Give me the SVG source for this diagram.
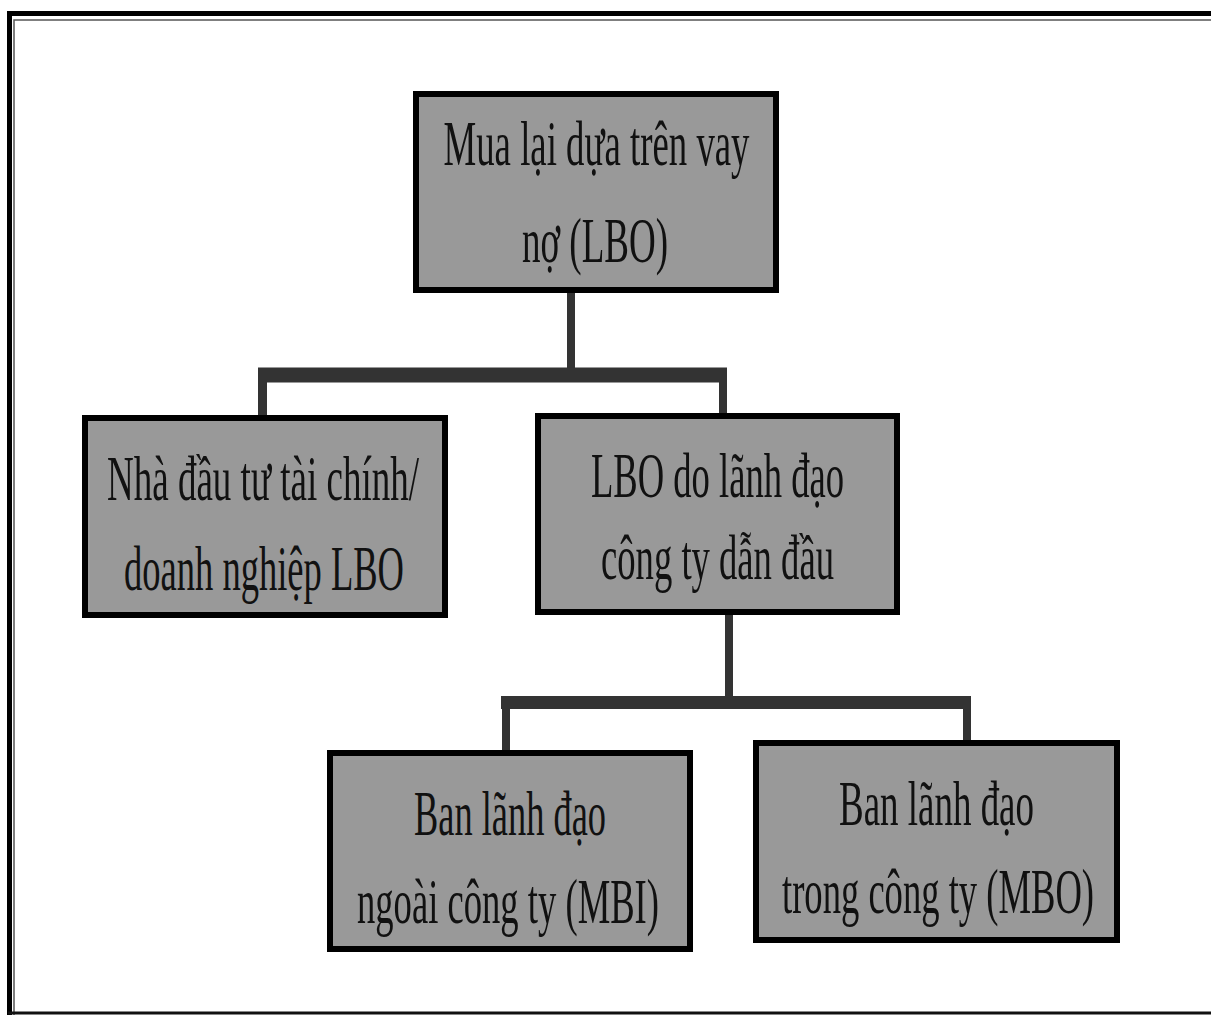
<svg xmlns="http://www.w3.org/2000/svg" width="1211" height="1015" viewBox="0 0 1211 1015">
<style>
.box{fill:#999999;stroke:#000;stroke-width:6}
.lbl{font-family:"Liberation Serif","Times New Roman",serif;font-size:63px;fill:#111;text-anchor:middle}
.conn{fill:none;stroke:#333333;stroke-linejoin:miter;stroke-linecap:butt}
</style>
<rect width="1211" height="1015" fill="#fff"/>
<g id="frame">
<path d="M9.5,1015 V13.5 H1215" fill="none" stroke="#000" stroke-width="5"/>
<path d="M14,1015 V20 H1215" fill="none" stroke="#555" stroke-width="1.5"/>
<line x1="8" y1="1013" x2="1211" y2="1013" stroke="#111" stroke-width="3"/>
</g>
<g id="connectors">
<line class="conn" x1="571" y1="293" x2="571" y2="375" stroke-width="8"/>
<line class="conn" x1="258" y1="375" x2="727" y2="375" stroke-width="15"/>
<line class="conn" x1="262.5" y1="375" x2="262.5" y2="415" stroke-width="9"/>
<line class="conn" x1="723" y1="375" x2="723" y2="413" stroke-width="8"/>
<line class="conn" x1="729" y1="615" x2="729" y2="702" stroke-width="8"/>
<line class="conn" x1="501" y1="702.5" x2="971" y2="702.5" stroke-width="13"/>
<line class="conn" x1="506" y1="702" x2="506" y2="750" stroke-width="8"/>
<line class="conn" x1="967" y1="702" x2="967" y2="740" stroke-width="8"/>
</g>
<g id="node-lbo">
<rect class="box" x="416" y="94" width="360" height="196"/>
<text class="lbl" x="596.5" y="165" textLength="306" lengthAdjust="spacingAndGlyphs">Mua lại dựa trên vay</text>
<text class="lbl" x="595" y="262" textLength="146" lengthAdjust="spacingAndGlyphs">nợ (LBO)</text>
</g>
<g id="node-investor">
<rect class="box" x="85" y="418" width="360" height="197"/>
<text class="lbl" x="263" y="500" textLength="312" lengthAdjust="spacingAndGlyphs">Nhà đầu tư tài chính/</text>
<text class="lbl" x="264" y="590" textLength="280" lengthAdjust="spacingAndGlyphs">doanh nghiệp LBO</text>
</g>
<g id="node-management">
<rect class="box" x="538" y="416" width="359" height="196"/>
<text class="lbl" x="717.5" y="497" textLength="253" lengthAdjust="spacingAndGlyphs">LBO do lãnh đạo</text>
<text class="lbl" x="717.5" y="579" textLength="233" lengthAdjust="spacingAndGlyphs">công ty dẫn đầu</text>
</g>
<g id="node-mbi">
<rect class="box" x="330" y="753" width="360" height="196"/>
<text class="lbl" x="510" y="835" textLength="192" lengthAdjust="spacingAndGlyphs">Ban lãnh đạo</text>
<text class="lbl" x="508" y="923" textLength="302" lengthAdjust="spacingAndGlyphs">ngoài công ty (MBI)</text>
</g>
<g id="node-mbo">
<rect class="box" x="756" y="743" width="361" height="197"/>
<text class="lbl" x="936.5" y="825" textLength="195" lengthAdjust="spacingAndGlyphs">Ban lãnh đạo</text>
<text class="lbl" x="938" y="913" textLength="312" lengthAdjust="spacingAndGlyphs">trong công ty (MBO)</text>
</g>
</svg>
